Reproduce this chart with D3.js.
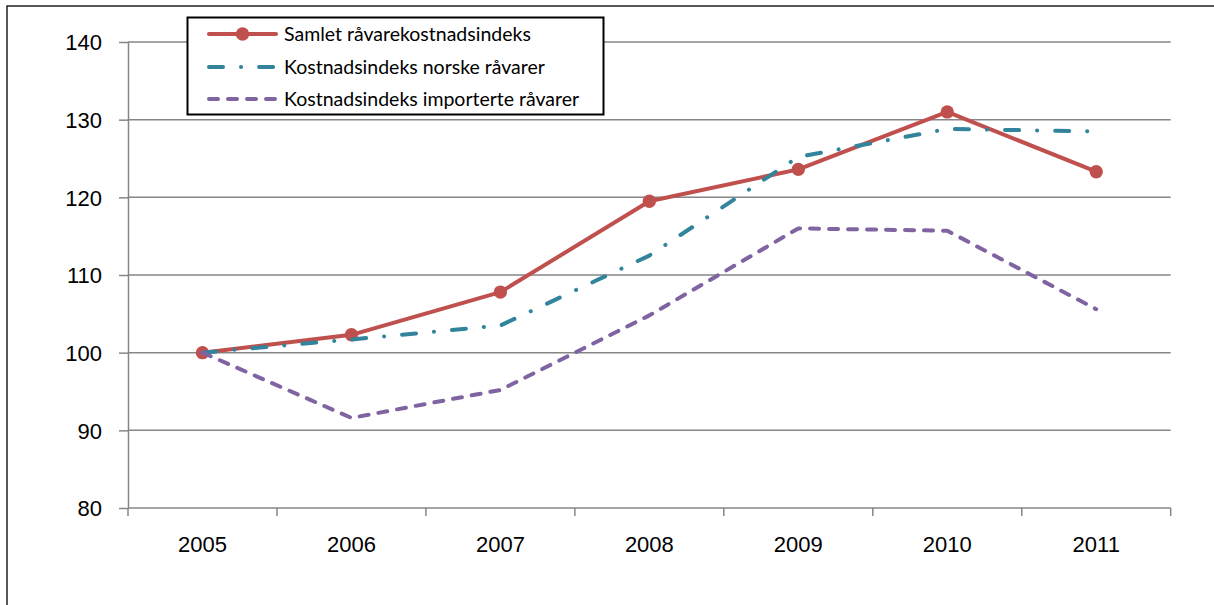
<!DOCTYPE html>
<html lang="no">
<head>
<meta charset="UTF-8">
<title>Råvarekostnadsindeks</title>
<style>
    body { margin: 0; background: #fff; }
    svg { display: block; font-family: Lato, "Open Sans", sans-serif; }
    .axis path, .axis line { stroke: #868686; stroke-width: 1.5; }
    .axis text { fill: #000; font-size: 22px; }
    .grid line { stroke: #868686; stroke-width: 1.5; }
    .legend text { font-size: 19.5px; fill: #000; }
</style>
</head>
<body>
<svg id="chart"></svg>
<script src="https://cdnjs.cloudflare.com/ajax/libs/d3/7.8.5/d3.min.js"></script>
<script>
    var width = 1214, height = 605;

    // data
    var years = ["2005", "2006", "2007", "2008", "2009", "2010", "2011"];
    var samlet = [100, 102.3, 107.8, 119.5, 123.6, 131.0, 123.3];
    var norske = [100, 101.7, 103.5, 112.5, 125.2, 128.8, 128.5];
    var importerte = [100, 91.6, 95.2, 104.8, 116.0, 115.7, 105.6];
    var yTicks = [80, 90, 100, 110, 120, 130, 140];

    var seriesNames = ["Samlet råvarekostnadsindeks", "Kostnadsindeks norske råvarer",
                       "Kostnadsindeks importerte råvarer"];

    // series in Excel draw order: samlet first, importerte on top
    var series = [
        {name: seriesNames[0], values: samlet, color: "#C0504D", dash: null, marker: true},
        {name: seriesNames[1], values: norske, color: "#31849B", dash: "14,18,0.1,18", marker: false},
        {name: seriesNames[2], values: importerte, color: "#8064A2", dash: "9,10", marker: false}
    ];

    var plot = {left: 128, right: 1170.7, top: 42, bottom: 508};

    var svg = d3.select("#chart").attr("width", width).attr("height", height);

    // outer chart frame (runs past the right and bottom edges)
    svg.append("rect")
        .attr("x", 7).attr("y", 6)
        .attr("width", 1240).attr("height", 640)
        .attr("fill", "none").attr("stroke", "#000").attr("stroke-width", 1.3);

    var x = d3.scaleBand().domain(years).range([plot.left, plot.right]).paddingInner(0).paddingOuter(0);
    var y = d3.scaleLinear().domain([80, 140]).range([plot.bottom, plot.top]);
    var cx = function(d) { return x(d) + x.bandwidth() / 2; };

    // horizontal gridlines
    svg.append("g").attr("class", "grid")
        .selectAll("line")
        .data(yTicks.filter(function(d) { return d > 80; }))
        .enter().append("line")
        .attr("x1", plot.left).attr("x2", plot.right)
        .attr("y1", function(d) { return y(d); })
        .attr("y2", function(d) { return y(d); });

    // y axis
    var yAxis = svg.append("g").attr("class", "axis")
        .attr("transform", "translate(" + plot.left + ",0)")
        .call(d3.axisLeft(y).tickValues(yTicks).tickSize(9).tickSizeOuter(0).tickPadding(17));
    yAxis.selectAll("text").attr("dy", "0.36em");

    // x axis: ticks sit on the category boundaries
    var xAxis = svg.append("g").attr("class", "axis")
        .attr("transform", "translate(0," + plot.bottom + ")")
        .call(d3.axisBottom(x).tickSize(0).tickPadding(28));
    xAxis.select(".domain").attr("d", "M" + plot.left + ",0H" + plot.right);
    xAxis.selectAll(".bound")
        .data(d3.range(years.length + 1))
        .enter().append("line")
        .attr("class", "bound")
        .attr("x1", function(i) { return plot.left + i * x.bandwidth(); })
        .attr("x2", function(i) { return plot.left + i * x.bandwidth(); })
        .attr("y1", 0).attr("y2", 8);

    var line = d3.line()
        .x(function(d, i) { return cx(years[i]); })
        .y(function(d) { return y(d); });

    series.forEach(function(s) {
        var g = svg.append("g");
        g.append("path")
            .datum(s.values)
            .attr("d", line)
            .attr("fill", "none")
            .attr("stroke", s.color)
            .attr("stroke-width", 4)
            .attr("stroke-linecap", "round")
            .attr("stroke-linejoin", "round")
            .attr("stroke-dasharray", s.dash);
        if (s.marker) {
            g.selectAll("circle")
                .data(s.values)
                .enter().append("circle")
                .attr("cx", function(d, i) { return cx(years[i]); })
                .attr("cy", function(d) { return y(d); })
                .attr("r", 6.7)
                .attr("fill", s.color);
        }
    });

    // legend
    var legend = svg.append("g").attr("class", "legend");
    legend.append("rect")
        .attr("x", 187.5).attr("y", 17.5)
        .attr("width", 416).attr("height", 97)
        .attr("fill", "#fff").attr("stroke", "#000").attr("stroke-width", 2);

    var rows = legend.selectAll(".row")
        .data(series)
        .enter().append("g")
        .attr("class", "row")
        .attr("transform", function(d, i) { return "translate(0," + [34, 67, 99][i] + ")"; });

    rows.append("line")
        .attr("x1", 209).attr("x2", 276)
        .attr("y1", 0).attr("y2", 0)
        .attr("stroke", function(d) { return d.color; })
        .attr("stroke-width", 4)
        .attr("stroke-linecap", "round")
        .attr("stroke-dasharray", function(d) { return d.dash; });
    rows.filter(function(d) { return d.marker; })
        .append("circle")
        .attr("cx", 242.5).attr("cy", 0).attr("r", 6.7)
        .attr("fill", function(d) { return d.color; });
    rows.append("text")
        .attr("x", 284).attr("y", 0).attr("dy", "0.35em")
        .text(function(d) { return d.name; });
</script>
</body>
</html>
